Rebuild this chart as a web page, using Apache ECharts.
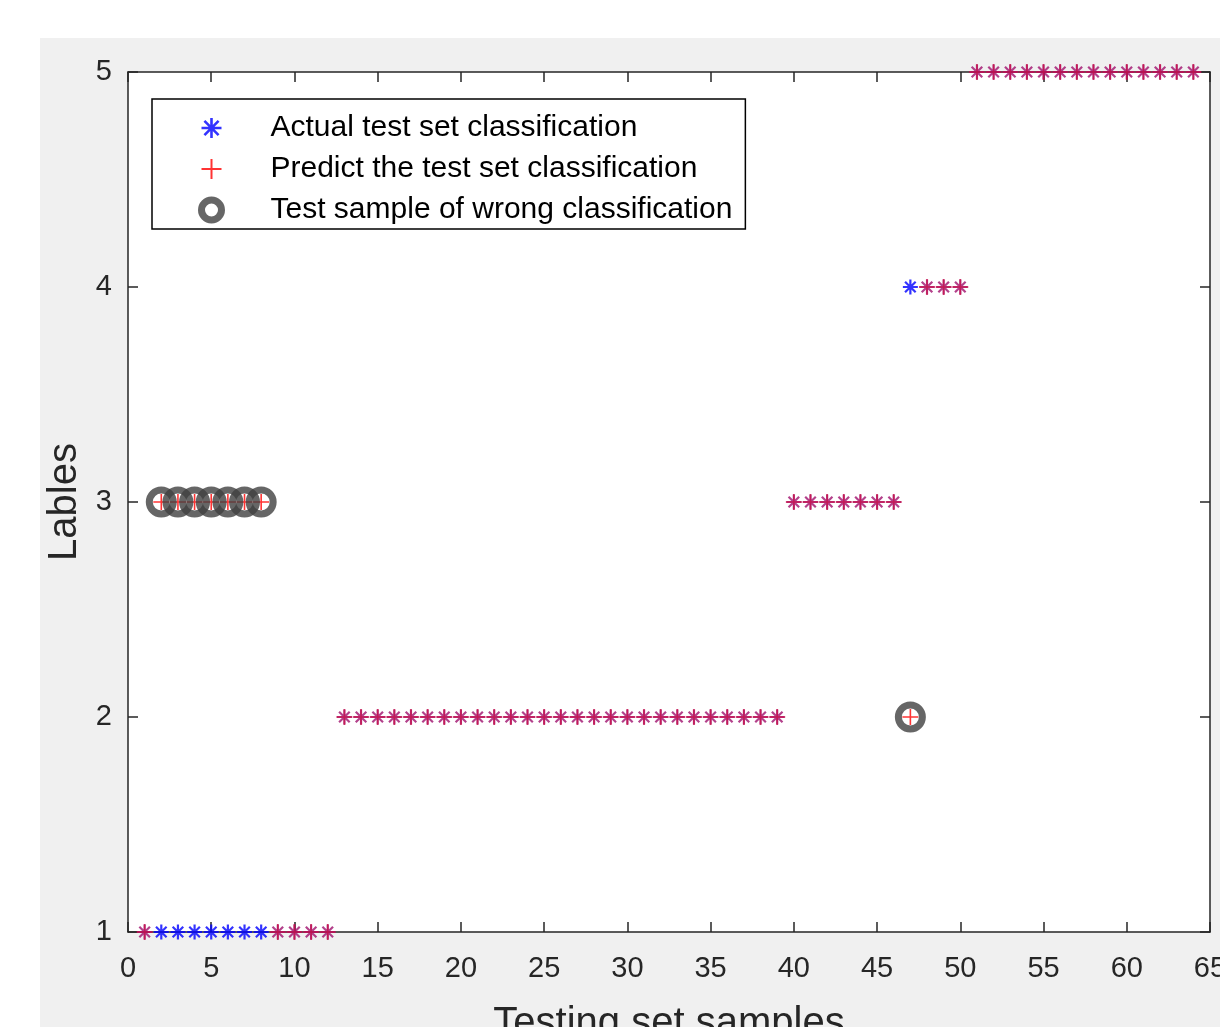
<!DOCTYPE html>
<html>
<head>
<meta charset="utf-8">
<script src="https://cdn.jsdelivr.net/npm/echarts@6/dist/echarts.min.js"></script>
<style>
    html, body { margin: 0; padding: 0; background: #fff; }
    #chart { width: 1220px; height: 1027px; }
</style>
</head>
<body>
<div id="chart"></div>
<script>
// test samples 1..64
var samples = [];
for (var s = 1; s <= 64; s++) samples.push(s);

var actualLabels = [
    1, 1, 1, 1, 1, 1, 1, 1, 1, 1, 1, 1,
    2, 2, 2, 2, 2, 2, 2, 2, 2, 2, 2, 2, 2, 2, 2, 2, 2, 2, 2, 2, 2, 2, 2, 2, 2, 2, 2,
    3, 3, 3, 3, 3, 3, 3,
    4, 4, 4, 4,
    5, 5, 5, 5, 5, 5, 5, 5, 5, 5, 5, 5, 5, 5
];
var predictLabels = [
    1, 3, 3, 3, 3, 3, 3, 3, 1, 1, 1, 1,
    2, 2, 2, 2, 2, 2, 2, 2, 2, 2, 2, 2, 2, 2, 2, 2, 2, 2, 2, 2, 2, 2, 2, 2, 2, 2, 2,
    3, 3, 3, 3, 3, 3, 3,
    2, 4, 4, 4,
    5, 5, 5, 5, 5, 5, 5, 5, 5, 5, 5, 5, 5, 5
];
var xTicks = [0, 5, 10, 15, 20, 25, 30, 35, 40, 45, 50, 55, 60, 65];
var yTicks = [1, 2, 3, 4, 5];

var legendNames = [
    'Actual test set classification',
    'Predict the test set classification',
    'Test sample of wrong classification'
];

var STAR = 'path://M0,-10L0,10M-10,0L10,0M-7.07,-7.07L7.07,7.07M-7.07,7.07L7.07,-7.07';
var PLUS = 'path://M0,-10L0,10M-10,0L10,0';
var TXT = '#262626';
var FONT = 'Liberation Sans, Arial, sans-serif';

var actualData = [], predictData = [], wrongData = [];
for (var i = 0; i < samples.length; i++) {
    var same = actualLabels[i] === predictLabels[i];
    actualData.push({
        value: [samples[i], actualLabels[i]],
        itemStyle: same ? { borderColor: '#a0126e' } : {}
    });
    predictData.push({
        value: [samples[i], predictLabels[i]],
        itemStyle: same ? { borderColor: '#c8104a' } : {}
    });
    if (!same) wrongData.push([samples[i], predictLabels[i]]);
}

function boxAxis(pos, min, max, interval) {
    return {
        type: 'value', min: min, max: max, interval: interval, position: pos,
        axisLine: { show: true, onZero: false, lineStyle: { color: TXT, width: 1.5 } },
        axisTick: { inside: true, length: 10, lineStyle: { color: TXT, width: 1.5 } },
        axisLabel: { show: false },
        splitLine: { show: false }
    };
}

var chart = echarts.init(document.getElementById('chart'));

var option = {
    backgroundColor: '#ffffff',
    animation: false,
    graphic: [{
        type: 'rect',
        z: -10,
        shape: { x: 40, y: 38, width: 1180, height: 989 },
        style: { fill: '#f0f0f0' }
    }],
    grid: {
        left: 128, top: 72, right: 10, bottom: 95,
        outerBoundsMode: 'none', containLabel: false,
        show: true, backgroundColor: '#ffffff', borderWidth: 0
    },
    legend: {
        orient: 'vertical',
        left: 152, top: 99,
        backgroundColor: '#ffffff',
        borderColor: '#000000', borderWidth: 1.5,
        padding: [14, 13, 4, 46],
        itemWidth: 30, itemHeight: 20, itemGap: 11,
        textStyle: {
            fontFamily: FONT, fontSize: 30, color: '#000',
            padding: [0, 0, 0, 39]
        },
        data: [
            { name: legendNames[0], itemStyle: { borderWidth: 2.6 } },
            { name: legendNames[1], itemStyle: { borderWidth: 2 } },
            { name: legendNames[2], itemStyle: { borderWidth: 7 } }
        ]
    },
    xAxis: [{
        type: 'value', min: 0, max: 65, interval: 5,
        name: 'Testing set samples', nameLocation: 'middle', nameGap: 72,
        nameTextStyle: { fontFamily: FONT, fontSize: 40, color: TXT },
        axisLine: { show: true, onZero: false, lineStyle: { color: TXT, width: 1.5 } },
        axisTick: { inside: true, length: 10, lineStyle: { color: TXT, width: 1.5 } },
        axisLabel: {
            fontFamily: FONT, fontSize: 29, color: TXT, margin: 22,
            formatter: function(v) { return xTicks.indexOf(v) >= 0 ? String(v) : ''; }
        },
        splitLine: { show: false }
    }, boxAxis('top', 0, 65, 5)],
    yAxis: [{
        type: 'value', min: 1, max: 5, interval: 1,
        name: 'Lables', nameLocation: 'middle', nameGap: 43,
        nameTextStyle: { fontFamily: FONT, fontSize: 40, color: TXT },
        axisLine: { show: true, onZero: false, lineStyle: { color: TXT, width: 1.5 } },
        axisTick: { inside: true, length: 10, lineStyle: { color: TXT, width: 1.5 } },
        axisLabel: {
            fontFamily: FONT, fontSize: 29, color: TXT, margin: 16,
            formatter: function(v) { return yTicks.indexOf(v) >= 0 ? String(v) : ''; }
        },
        splitLine: { show: false }
    }, boxAxis('right', 1, 5, 1)],
    series: [{
        name: legendNames[0],
        type: 'scatter', clip: false, z: 3,
        symbol: STAR, symbolSize: 15,
        itemStyle: { color: 'transparent', borderColor: '#0000ff', borderWidth: 2.2 },
        data: actualData
    }, {
        name: legendNames[1],
        type: 'scatter', clip: false, z: 4,
        symbol: PLUS, symbolSize: 16,
        itemStyle: { color: 'transparent', borderColor: '#ff0000', borderWidth: 1.6 },
        data: predictData
    }, {
        name: legendNames[2],
        type: 'scatter', clip: false, z: 5,
        symbol: 'circle', symbolSize: 24,
        itemStyle: { color: 'transparent', borderColor: '#404040', borderWidth: 7 },
        data: wrongData
    }]
};

chart.setOption(option);
</script>
</body>
</html>
